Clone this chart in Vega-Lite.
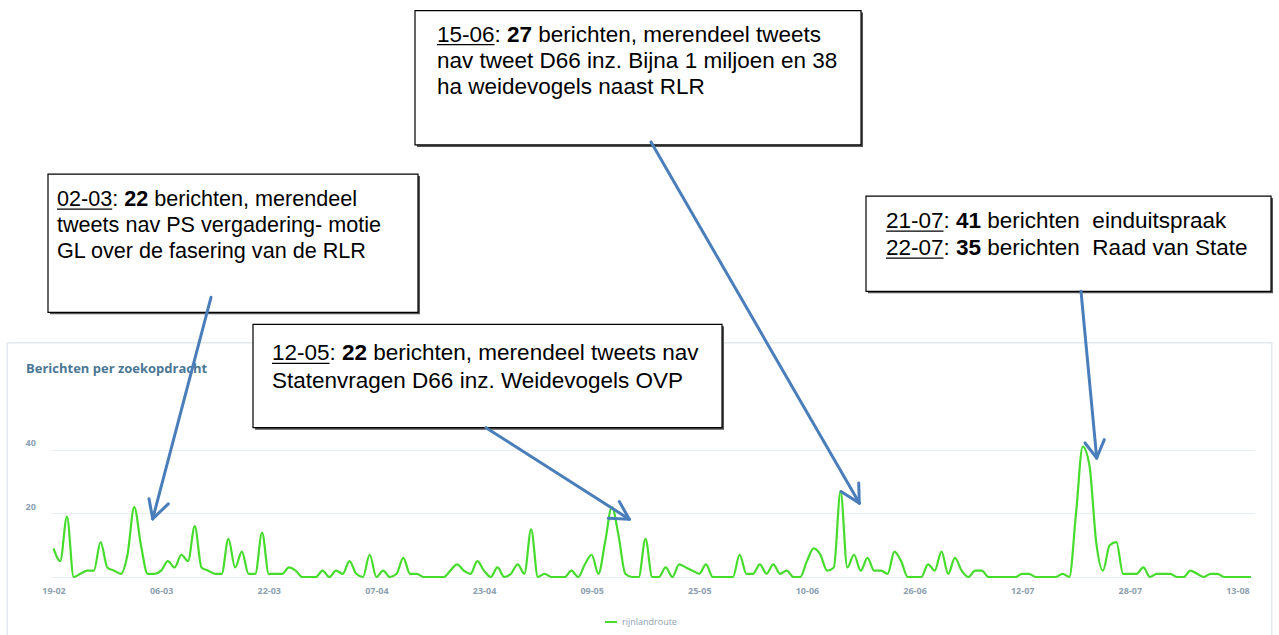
{
 "$schema": "https://vega.github.io/schema/vega-lite/v6.json",
 "width": 1203,
 "height": 143,
 "autosize": {"type": "none"},
 "padding": {"left": 51, "top": 434, "right": 25, "bottom": 58},
 "background": "white",
 "config": {"view": {"stroke": null}, "font": "Liberation Sans"},
 "datasets": {
  "counts": [
   {"d":"2016-02-19","v":9},{"d":"2016-02-20","v":5},{"d":"2016-02-21","v":19},{"d":"2016-02-22","v":0},{"d":"2016-02-23","v":1},{"d":"2016-02-24","v":2},{"d":"2016-02-25","v":2},{"d":"2016-02-26","v":11},{"d":"2016-02-27","v":3},{"d":"2016-02-28","v":2},{"d":"2016-02-29","v":1},
   {"d":"2016-03-01","v":7},{"d":"2016-03-02","v":22},{"d":"2016-03-03","v":10},{"d":"2016-03-04","v":1},{"d":"2016-03-05","v":1},{"d":"2016-03-06","v":2},{"d":"2016-03-07","v":5},{"d":"2016-03-08","v":3},{"d":"2016-03-09","v":7},{"d":"2016-03-10","v":5},{"d":"2016-03-11","v":16},{"d":"2016-03-12","v":3},{"d":"2016-03-13","v":2},{"d":"2016-03-14","v":1},{"d":"2016-03-15","v":1},{"d":"2016-03-16","v":12},{"d":"2016-03-17","v":3},{"d":"2016-03-18","v":8},{"d":"2016-03-19","v":1},{"d":"2016-03-20","v":1},{"d":"2016-03-21","v":14},{"d":"2016-03-22","v":1},{"d":"2016-03-23","v":1},{"d":"2016-03-24","v":1},{"d":"2016-03-25","v":3},{"d":"2016-03-26","v":2},{"d":"2016-03-27","v":0},{"d":"2016-03-28","v":0},{"d":"2016-03-29","v":0},{"d":"2016-03-30","v":2},{"d":"2016-03-31","v":0},
   {"d":"2016-04-01","v":2},{"d":"2016-04-02","v":1},{"d":"2016-04-03","v":5},{"d":"2016-04-04","v":1},{"d":"2016-04-05","v":0},{"d":"2016-04-06","v":7},{"d":"2016-04-07","v":0},{"d":"2016-04-08","v":2},{"d":"2016-04-09","v":0},{"d":"2016-04-10","v":1},{"d":"2016-04-11","v":6},{"d":"2016-04-12","v":1},{"d":"2016-04-13","v":1},{"d":"2016-04-14","v":0},{"d":"2016-04-15","v":0},{"d":"2016-04-16","v":0},{"d":"2016-04-17","v":0},{"d":"2016-04-18","v":2},{"d":"2016-04-19","v":4},{"d":"2016-04-20","v":2},{"d":"2016-04-21","v":1},{"d":"2016-04-22","v":5},{"d":"2016-04-23","v":2},{"d":"2016-04-24","v":0},{"d":"2016-04-25","v":3},{"d":"2016-04-26","v":0},{"d":"2016-04-27","v":1},{"d":"2016-04-28","v":4},{"d":"2016-04-29","v":1},{"d":"2016-04-30","v":15},
   {"d":"2016-05-01","v":0},{"d":"2016-05-02","v":1},{"d":"2016-05-03","v":0},{"d":"2016-05-04","v":0},{"d":"2016-05-05","v":0},{"d":"2016-05-06","v":2},{"d":"2016-05-07","v":0},{"d":"2016-05-08","v":4},{"d":"2016-05-09","v":7},{"d":"2016-05-10","v":1},{"d":"2016-05-11","v":11},{"d":"2016-05-12","v":22},{"d":"2016-05-13","v":13},{"d":"2016-05-14","v":1},{"d":"2016-05-15","v":0},{"d":"2016-05-16","v":0},{"d":"2016-05-17","v":12},{"d":"2016-05-18","v":0},{"d":"2016-05-19","v":0},{"d":"2016-05-20","v":3},{"d":"2016-05-21","v":0},{"d":"2016-05-22","v":4},{"d":"2016-05-23","v":3},{"d":"2016-05-24","v":2},{"d":"2016-05-25","v":1},{"d":"2016-05-26","v":4},{"d":"2016-05-27","v":0},{"d":"2016-05-28","v":0},{"d":"2016-05-29","v":0},{"d":"2016-05-30","v":0},{"d":"2016-05-31","v":7},
   {"d":"2016-06-01","v":1},{"d":"2016-06-02","v":1},{"d":"2016-06-03","v":4},{"d":"2016-06-04","v":1},{"d":"2016-06-05","v":4},{"d":"2016-06-06","v":1},{"d":"2016-06-07","v":2},{"d":"2016-06-08","v":0},{"d":"2016-06-09","v":0},{"d":"2016-06-10","v":5},{"d":"2016-06-11","v":9},{"d":"2016-06-12","v":7},{"d":"2016-06-13","v":2},{"d":"2016-06-14","v":3},{"d":"2016-06-15","v":27},{"d":"2016-06-16","v":3},{"d":"2016-06-17","v":7},{"d":"2016-06-18","v":2},{"d":"2016-06-19","v":6},{"d":"2016-06-20","v":2},{"d":"2016-06-21","v":2},{"d":"2016-06-22","v":1},{"d":"2016-06-23","v":8},{"d":"2016-06-24","v":5},{"d":"2016-06-25","v":0},{"d":"2016-06-26","v":0},{"d":"2016-06-27","v":0},{"d":"2016-06-28","v":4},{"d":"2016-06-29","v":2},{"d":"2016-06-30","v":8},
   {"d":"2016-07-01","v":1},{"d":"2016-07-02","v":6},{"d":"2016-07-03","v":2},{"d":"2016-07-04","v":0},{"d":"2016-07-05","v":2},{"d":"2016-07-06","v":2},{"d":"2016-07-07","v":0},{"d":"2016-07-08","v":0},{"d":"2016-07-09","v":0},{"d":"2016-07-10","v":0},{"d":"2016-07-11","v":0},{"d":"2016-07-12","v":1},{"d":"2016-07-13","v":1},{"d":"2016-07-14","v":0},{"d":"2016-07-15","v":0},{"d":"2016-07-16","v":0},{"d":"2016-07-17","v":0},{"d":"2016-07-18","v":1},{"d":"2016-07-19","v":0},{"d":"2016-07-20","v":20},{"d":"2016-07-21","v":41},{"d":"2016-07-22","v":35},{"d":"2016-07-23","v":11},{"d":"2016-07-24","v":2},{"d":"2016-07-25","v":10},{"d":"2016-07-26","v":11},{"d":"2016-07-27","v":1},{"d":"2016-07-28","v":1},{"d":"2016-07-29","v":1},{"d":"2016-07-30","v":3},{"d":"2016-07-31","v":0},
   {"d":"2016-08-01","v":1},{"d":"2016-08-02","v":1},{"d":"2016-08-03","v":1},{"d":"2016-08-04","v":0},{"d":"2016-08-05","v":0},{"d":"2016-08-06","v":2},{"d":"2016-08-07","v":1},{"d":"2016-08-08","v":0},{"d":"2016-08-09","v":1},{"d":"2016-08-10","v":1},{"d":"2016-08-11","v":0},{"d":"2016-08-12","v":0},{"d":"2016-08-13","v":0},{"d":"2016-08-14","v":0},{"d":"2016-08-15","v":0}
  ],
  "frame": [{"x":"2016-02-12T03:10:00Z","x2":"2016-08-18T02:10:00Z","y":73.72,"y2":-25}],
  "chartTitle": [{"x":"2016-02-14T21:53:00Z","y":64.04,"text":"Berichten per zoekopdracht"}],
  "boxes": [
   {"x":"2016-02-18T04:23:00Z","x2":"2016-04-13T04:23:00Z","y":126.81,"y2":83.28},
   {"x":"2016-03-19T15:46:00Z","x2":"2016-05-28T09:02:00Z","y":79.50,"y2":47.00},
   {"x":"2016-04-12T17:43:00Z","x2":"2016-06-18T01:00:00Z","y":178.23,"y2":135.96},
   {"x":"2016-06-18T18:43:00Z","x2":"2016-08-17T23:45:00Z","y":119.87,"y2":89.91}
  ],
  "heads": [
   {"x":"2016-03-22T11:33:00Z","y":68.14,"date":"12-05","num":"22","rest":"berichten, merendeel tweets nav"},
   {"x":"2016-04-16T00:13:00Z","y":168.45,"date":"15-06","num":"27","rest":"berichten, merendeel tweets"},
   {"x":"2016-06-21T18:07:00Z","y":109.78,"date":"21-07","num":"41","rest":"berichten\u00a0 einduitspraak"},
   {"x":"2016-06-21T18:07:00Z","y":101.26,"date":"22-07","num":"35","rest":"berichten\u00a0 Raad van State"}
  ],
  "heads1": [
   {"x":"2016-02-19T12:29:00Z","y":116.72,"date":"02-03","num":"22","rest":"berichten, merendeel"}
  ],
  "lines": [
   {"x":"2016-03-22T11:33:00Z","y":59.62,"text":"Statenvragen D66 inz. Weidevogels OVP"},
   {"x":"2016-04-16T00:13:00Z","y":160.25,"text":"nav tweet D66 inz. Bijna 1 miljoen en 38"},
   {"x":"2016-04-16T00:13:00Z","y":152.05,"text":"ha weidevogels naast RLR"}
  ],
  "lines1": [
   {"x":"2016-02-19T12:29:00Z","y":108.52,"text":"tweets nav PS vergadering- motie"},
   {"x":"2016-02-19T12:29:00Z","y":100.32,"text":"GL over de fasering van de RLR"}
  ],
  "arrows": [
   {"x":"2016-03-13T09:55:00Z","y":88.01,"x2":"2016-03-04T17:56:00Z","y2":18.30},
   {"x":"2016-03-04T04:42:00Z","y":24.61,"x2":"2016-03-04T17:56:00Z","y2":18.30},
   {"x":"2016-03-07T01:35:00Z","y":23.03,"x2":"2016-03-04T17:56:00Z","y2":18.30},
   {"x":"2016-04-23T07:02:00Z","y":47.00,"x2":"2016-05-14T14:17:00Z","y2":18.20},
   {"x":"2016-05-13T02:35:00Z","y":23.75,"x2":"2016-05-14T14:17:00Z","y2":18.20},
   {"x":"2016-05-11T11:21:00Z","y":18.52,"x2":"2016-05-14T14:17:00Z","y2":18.20},
   {"x":"2016-05-17T19:42:00Z","y":136.91,"x2":"2016-06-17T18:52:00Z","y2":23.25},
   {"x":"2016-06-17T16:43:00Z","y":29.56,"x2":"2016-06-17T18:52:00Z","y2":23.25},
   {"x":"2016-06-15T01:35:00Z","y":26.91,"x2":"2016-06-17T18:52:00Z","y2":23.25},
   {"x":"2016-07-20T17:50:00Z","y":89.91,"x2":"2016-07-23T01:51:00Z","y2":37.44},
   {"x":"2016-07-21T08:07:00Z","y":42.18,"x2":"2016-07-23T01:51:00Z","y2":37.44},
   {"x":"2016-07-24T04:58:00Z","y":43.22,"x2":"2016-07-23T01:51:00Z","y2":37.44}
  ]
 },
 "layer": [
  {
   "data": {"name": "counts"},
   "mark": {"type": "line", "interpolate": "monotone", "strokeWidth": 2.2},
   "encoding": {
    "x": {"field": "d", "type": "temporal",
     "scale": {"type": "utc", "domain": [{"year": 2016, "month": 2, "date": 18, "hours": 15, "minutes": 5, "utc": true}, {"year": 2016, "month": 8, "date": 15, "hours": 11, "utc": true}]},
     "axis": {"title": null, "format": "%d-%m", "grid": false, "domain": false, "ticks": false,
      "values": [
       {"year":2016,"month":2,"date":19,"utc":true},{"year":2016,"month":3,"date":6,"utc":true},{"year":2016,"month":3,"date":22,"utc":true},{"year":2016,"month":4,"date":7,"utc":true},{"year":2016,"month":4,"date":23,"utc":true},{"year":2016,"month":5,"date":9,"utc":true},{"year":2016,"month":5,"date":25,"utc":true},{"year":2016,"month":6,"date":10,"utc":true},{"year":2016,"month":6,"date":26,"utc":true},{"year":2016,"month":7,"date":12,"utc":true},{"year":2016,"month":7,"date":28,"utc":true},{"year":2016,"month":8,"date":13,"utc":true}
      ],
      "labelColor": "#8ea1b1", "labelFontSize": 9, "labelFont": "Open Sans", "labelFontWeight": "bold", "labelPadding": 9, "labelFlush": false, "labelOverlap": false}},
    "y": {"field": "v", "type": "quantitative",
     "scale": {"domain": [0, 45], "nice": false},
     "axis": {"title": null, "values": [0, 20, 40], "grid": true, "gridColor": "#e6edf0", "domain": false, "ticks": false,
      "labelExpr": "datum.value == 0 ? '' : datum.label", "labelAlign": "left", "labelPadding": 26, "labelBaseline": "alphabetic", "labelOffset": -4,
      "labelColor": "#8ea1b1", "labelFontSize": 9, "labelFont": "Open Sans", "labelFontWeight": "bold"}},
    "color": {"datum": "rijnlandroute", "type": "nominal", "scale": {"range": ["#45dc2b"]},
     "legend": {"orient": "none", "legendX": 553, "legendY": 181, "title": null, "direction": "horizontal", "symbolType": "stroke", "symbolStrokeWidth": 2, "symbolSize": 144, "labelFontSize": 9, "labelColor": "#8ea1b1", "labelFont": "Open Sans"}}
   }
  },
  {
   "data": {"name": "frame"},
   "mark": {"type": "rect", "filled": false, "stroke": "#e3e9ec", "strokeWidth": 1.5},
   "encoding": {
    "x": {"field": "x", "type": "temporal"}, "x2": {"field": "x2"},
    "y": {"field": "y", "type": "quantitative"}, "y2": {"field": "y2"}
   }
  },
  {
   "data": {"name": "chartTitle"},
   "mark": {"type": "text", "align": "left", "baseline": "alphabetic", "font": "Open Sans", "fontSize": 13, "fontWeight": "bold", "color": "#4a7795"},
   "encoding": {
    "x": {"field": "x", "type": "temporal"},
    "y": {"field": "y", "type": "quantitative"},
    "text": {"field": "text"}
   }
  },
  {
   "data": {"name": "boxes"},
   "mark": {"type": "rect", "fill": "#555555", "xOffset": 2, "x2Offset": 2, "yOffset": 2, "y2Offset": 2},
   "encoding": {
    "x": {"field": "x", "type": "temporal"}, "x2": {"field": "x2"},
    "y": {"field": "y", "type": "quantitative"}, "y2": {"field": "y2"}
   }
  },
  {
   "data": {"name": "boxes"},
   "mark": {"type": "rect", "fill": "white", "stroke": "black", "strokeWidth": 1.2},
   "encoding": {
    "x": {"field": "x", "type": "temporal"}, "x2": {"field": "x2"},
    "y": {"field": "y", "type": "quantitative"}, "y2": {"field": "y2"}
   }
  },
  {
   "data": {"name": "heads"},
   "mark": {"type": "text", "align": "left", "baseline": "alphabetic", "font": "Liberation Sans", "fontSize": 22.5, "color": "black"},
   "encoding": {
    "x": {"field": "x", "type": "temporal"},
    "y": {"field": "y", "type": "quantitative"},
    "text": {"field": "date"}
   }
  },
  {
   "data": {"name": "heads"},
   "mark": {"type": "text", "align": "left", "baseline": "alphabetic", "font": "Liberation Sans", "fontSize": 22.5, "color": "black", "dx": 57.5, "text": ":"},
   "encoding": {
    "x": {"field": "x", "type": "temporal"},
    "y": {"field": "y", "type": "quantitative"}
   }
  },
  {
   "data": {"name": "heads"},
   "mark": {"type": "text", "align": "left", "baseline": "alphabetic", "font": "Liberation Sans", "fontSize": 22.5, "fontWeight": "bold", "color": "black", "dx": 70},
   "encoding": {
    "x": {"field": "x", "type": "temporal"},
    "y": {"field": "y", "type": "quantitative"},
    "text": {"field": "num"}
   }
  },
  {
   "data": {"name": "heads"},
   "mark": {"type": "text", "align": "left", "baseline": "alphabetic", "font": "Liberation Sans", "fontSize": 22.5, "color": "black", "dx": 101.3},
   "encoding": {
    "x": {"field": "x", "type": "temporal"},
    "y": {"field": "y", "type": "quantitative"},
    "text": {"field": "rest"}
   }
  },
  {
   "data": {"name": "heads"},
   "mark": {"type": "rule", "color": "black", "strokeWidth": 1.3, "x2Offset": 57.5, "yOffset": 3, "y2Offset": 3},
   "encoding": {
    "x": {"field": "x", "type": "temporal"}, "x2": {"field": "x"},
    "y": {"field": "y", "type": "quantitative"}, "y2": {"field": "y"}
   }
  },
  {
   "data": {"name": "lines"},
   "mark": {"type": "text", "align": "left", "baseline": "alphabetic", "font": "Liberation Sans", "fontSize": 22.5, "color": "black"},
   "encoding": {
    "x": {"field": "x", "type": "temporal"},
    "y": {"field": "y", "type": "quantitative"},
    "text": {"field": "text"}
   }
  },
  {
   "data": {"name": "heads1"},
   "mark": {"type": "text", "align": "left", "baseline": "alphabetic", "font": "Liberation Sans", "fontSize": 21.6, "color": "black"},
   "encoding": {
    "x": {"field": "x", "type": "temporal"},
    "y": {"field": "y", "type": "quantitative"},
    "text": {"field": "date"}
   }
  },
  {
   "data": {"name": "heads1"},
   "mark": {"type": "text", "align": "left", "baseline": "alphabetic", "font": "Liberation Sans", "fontSize": 21.6, "color": "black", "dx": 55.2, "text": ":"},
   "encoding": {
    "x": {"field": "x", "type": "temporal"},
    "y": {"field": "y", "type": "quantitative"}
   }
  },
  {
   "data": {"name": "heads1"},
   "mark": {"type": "text", "align": "left", "baseline": "alphabetic", "font": "Liberation Sans", "fontSize": 21.6, "fontWeight": "bold", "color": "black", "dx": 67.2},
   "encoding": {
    "x": {"field": "x", "type": "temporal"},
    "y": {"field": "y", "type": "quantitative"},
    "text": {"field": "num"}
   }
  },
  {
   "data": {"name": "heads1"},
   "mark": {"type": "text", "align": "left", "baseline": "alphabetic", "font": "Liberation Sans", "fontSize": 21.6, "color": "black", "dx": 97.2},
   "encoding": {
    "x": {"field": "x", "type": "temporal"},
    "y": {"field": "y", "type": "quantitative"},
    "text": {"field": "rest"}
   }
  },
  {
   "data": {"name": "heads1"},
   "mark": {"type": "rule", "color": "black", "strokeWidth": 1.3, "x2Offset": 55.2, "yOffset": 3, "y2Offset": 3},
   "encoding": {
    "x": {"field": "x", "type": "temporal"}, "x2": {"field": "x"},
    "y": {"field": "y", "type": "quantitative"}, "y2": {"field": "y"}
   }
  },
  {
   "data": {"name": "lines1"},
   "mark": {"type": "text", "align": "left", "baseline": "alphabetic", "font": "Liberation Sans", "fontSize": 21.6, "color": "black"},
   "encoding": {
    "x": {"field": "x", "type": "temporal"},
    "y": {"field": "y", "type": "quantitative"},
    "text": {"field": "text"}
   }
  },
  {
   "data": {"name": "arrows"},
   "mark": {"type": "rule", "color": "#4a7ebb", "strokeWidth": 3, "strokeCap": "round"},
   "encoding": {
    "x": {"field": "x", "type": "temporal"}, "x2": {"field": "x2"},
    "y": {"field": "y", "type": "quantitative"}, "y2": {"field": "y2"}
   }
  }
 ]
}
